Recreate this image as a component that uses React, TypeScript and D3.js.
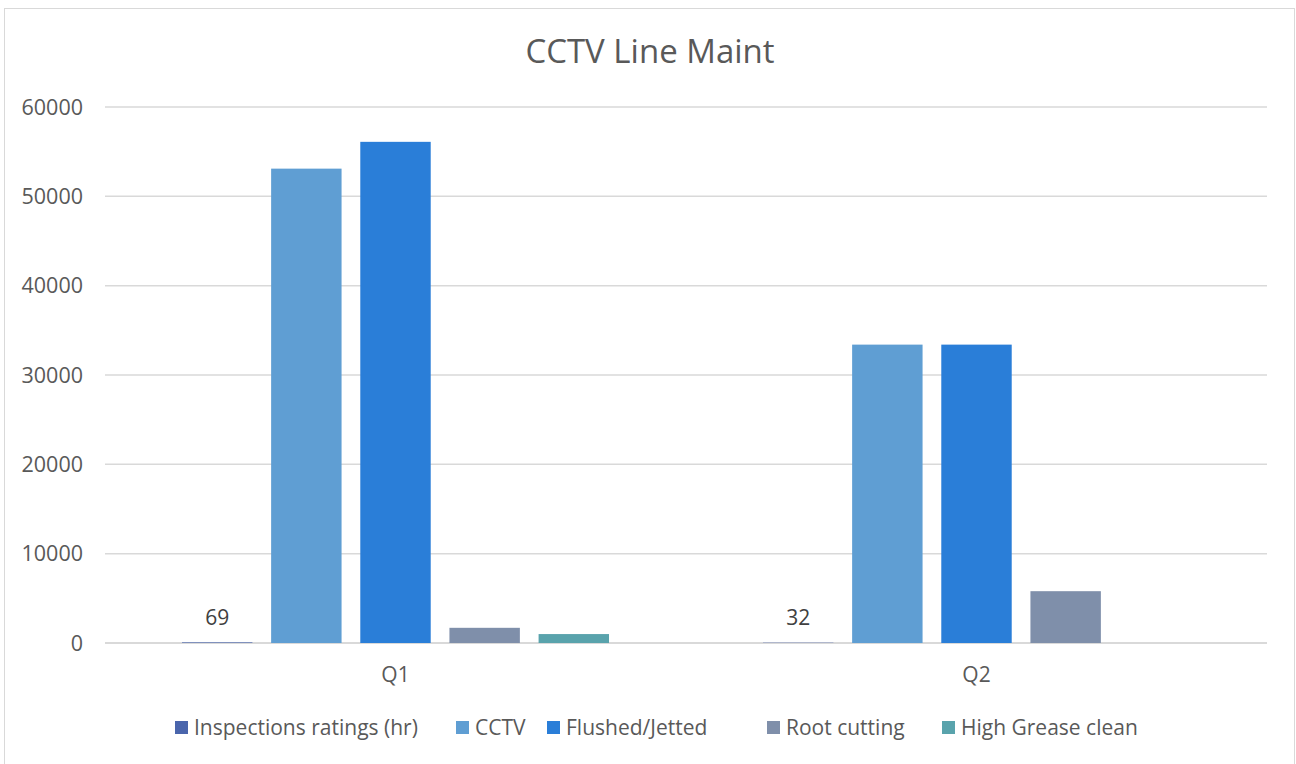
import React from "react";
import * as d3 from "d3";

const categories = ["Q1", "Q2"];
const seriesNames = ["Inspections ratings (hr)", "CCTV", "Flushed/Jetted", "Root cutting", "High Grease clean"];
const seriesColors = ["#4a65ac", "#5f9ed3", "#2a7ed8", "#7f8faa", "#59a3ac"];
const inspections = [69, 32];
const cctv = [53100, 33400];
const flushed = [56100, 33400];
const rootCutting = [1700, 5800];
const highGrease = [1000, 0];
const seriesValues = [inspections, cctv, flushed, rootCutting, highGrease];
const yTicks = [0, 10000, 20000, 30000, 40000, 50000, 60000];
const labeledSeries = [0];

const W = 1296;
const H = 764;
const left = 105;
const right = 1267;
const top = 107;
const bottom = 643;
const FONT = "'Open Sans', 'Noto Sans', sans-serif";
const TEXT = "#595959";

export default function App() {
  const x0 = d3.scaleBand<string>().domain(categories).range([left, right]).padding(0);
  const bw = x0.bandwidth();
  const off = bw * 0.1325;
  const x1 = d3.scaleBand<string>().domain(seriesNames).range([off, bw - off]).paddingInner(0.21).paddingOuter(0);
  const y = d3.scaleLinear().domain([0, 60000]).range([bottom, top]);

  const legendX = [175, 456, 547, 767, 942];

  return (
    <svg width={W} height={H} style={{ position: "absolute", left: 0, top: 0, background: "#fff" }}>
      <rect x={4.5} y={8.5} width={1290} height={770} fill="#fff" stroke="#d9d9d9" strokeWidth={1} />
      <text x={650} y={63} textAnchor="middle" fontFamily={FONT} fontSize={33} fill={TEXT}>CCTV Line Maint</text>
      {yTicks.map((t) => (
        <g key={t}>
          <line x1={left} x2={right} y1={y(t)} y2={y(t)} stroke="#d9d9d9" strokeWidth={t === 0 ? 2 : 1.5} />
          <text x={83} y={y(t)} dy="0.35em" textAnchor="end" fontFamily={FONT} fontSize={21.5} fill={TEXT}>{t}</text>
        </g>
      ))}
      {categories.map((c, ci) => (
        <g key={c} transform={`translate(${x0(c)},0)`}>
          {seriesNames.map((s, si) => {
            const v = seriesValues[si][ci];
            const bx = x1(s)!;
            return (
              <g key={s}>
                {v > 0 && (
                  <rect x={bx} y={y(v)} width={x1.bandwidth()} height={bottom - y(v)} fill={seriesColors[si]} />
                )}
                {labeledSeries.includes(si) && (
                  <text x={bx + x1.bandwidth() / 2} y={y(v) - 25} dy="0.35em" textAnchor="middle" fontFamily={FONT} fontSize={21} fill="#404040">{v}</text>
                )}
              </g>
            );
          })}
          <text x={bw / 2} y={675} dy="0.35em" textAnchor="middle" fontFamily={FONT} fontSize={21} fill={TEXT}>{c}</text>
        </g>
      ))}
      {seriesNames.map((s, i) => (
        <g key={s} transform={`translate(${legendX[i]},0)`}>
          <rect x={0} y={721} width={13} height={13} fill={seriesColors[i]} />
          <text x={19} y={727.5} dy="0.35em" fontFamily={FONT} fontSize={21} fill={TEXT}>{s}</text>
        </g>
      ))}
    </svg>
  );
}
